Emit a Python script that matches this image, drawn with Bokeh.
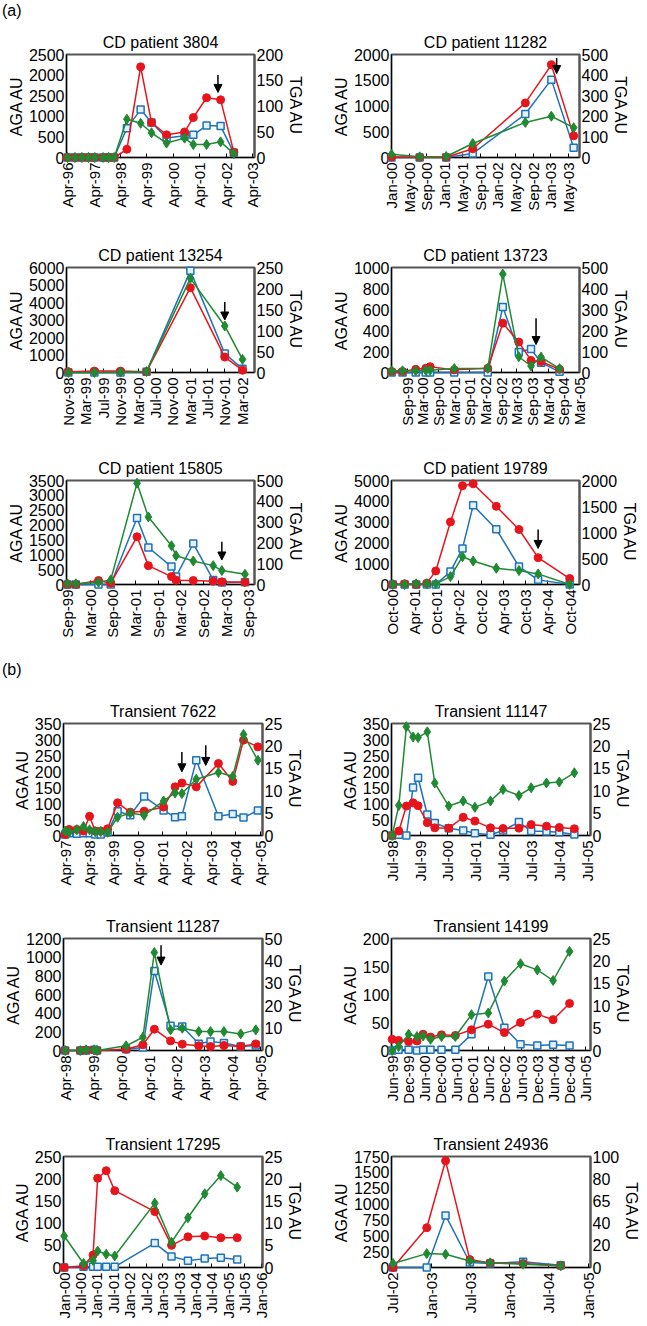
import math
from bokeh.plotting import figure
from bokeh.models import Range1d, LinearAxis, FixedTicker, Arrow, NormalHead, Div
from bokeh.layouts import column, row
from bokeh.embed import file_html
from bokeh.resources import INLINE

RED = "#e8141c"
GREEN = "#1f8a32"
BLUE = "#1f72b8"
FONT = "Liberation Sans"
MONTHS = ["Jan", "Feb", "Mar", "Apr", "May", "Jun", "Jul", "Aug", "Sep", "Oct", "Nov", "Dec"]

# ---------------- data (dates as decimal years; red/green on AGA axis, blue on TGA axis)
t3804 = "CD patient 3804"
x3804 = [1996.25, 1996.53, 1996.79, 1997.04, 1997.28, 1997.59, 1997.80, 1998.01, 1998.49,
         1999.01, 1999.42, 1999.99, 2000.67, 2001.0, 2001.5, 2002.03, 2002.53]
red3804 = [0, 0, 0, 0, 0, 0, 0, 0, 200, 2200, 850, 550, 620, 970, 1450, 1400, 130]
green3804 = [0, 0, 0, 0, 0, 0, 0, 0, 930, 830, 600, 350, 470, 315, 315, 380, 95]
blue3804 = [0, 0, 0, 0, 0, 0, 0, 0, 57, 93, 68, 38, 42, 44, 62, 61, 9]
xt3804 = ["Apr-96", "Apr-97", "Apr-98", "Apr-99", "Apr-00", "Apr-01", "Apr-02", "Apr-03"]
xr3804 = [1996.21, 2003.31]
aga3804 = [0, 500, 1000, 1500, 2000, 2500]
aga3804_labels = {1500: "2500"}
tga3804 = [0, 50, 100, 150, 200]
arr3804 = [(2001.93, 2000, 1580)]

t11282 = "CD patient 11282"
x11282 = [2000.0, 2000.53, 2001.03, 2001.53, 2002.52, 2003.01, 2003.43]
red11282 = [10, 5, 5, 170, 1060, 1800, 420]
green11282 = [63, 13, 19, 271, 681, 801, 580]
blue11282 = [0, 0, 0, 19, 211, 378, 47]
xt11282 = ["Jan-00", "May-00", "Sep-00", "Jan-01", "May-01", "Sep-01", "Jan-02", "May-02",
           "Sep-02", "Jan-03", "May-03"]
xr11282 = [2000.0, 2003.54]
aga11282 = [0, 500, 1000, 1500, 2000]
tga11282 = [0, 100, 200, 300, 400, 500]
arr11282 = [(2003.11, 1930, 1630)]

t13254 = "CD patient 13254"
x13254 = [1998.83, 1999.33, 1999.83, 2000.33, 2001.17, 2001.83, 2002.17]
red13254 = [50, 80, 80, 50, 4850, 880, 130]
green13254 = [0, 0, 20, 56, 5380, 2660, 750]
blue13254 = [0, 0, 0, 2, 242, 45, 9]
xt13254 = ["Nov-98", "Mar-99", "Jul-99", "Nov-99", "Mar-00", "Jul-00", "Nov-00", "Mar-01",
           "Jul-01", "Nov-01", "Mar-02"]
xr13254 = [1998.795, 2002.40]
aga13254 = [0, 1000, 2000, 3000, 4000, 5000, 6000]
tga13254 = [0, 50, 100, 150, 200, 250]
arr13254 = [(2001.83, 4030, 3000)]

t13723 = "CD patient 13723"
x13723 = [1999.17, 1999.52, 1999.94, 2000.26, 2000.40, 2001.17, 2002.24, 2002.72, 2003.23,
          2003.62, 2003.94, 2004.53]
red13723 = [10, 10, 30, 40, 55, 25, 40, 470, 290, 115, 105, 30]
green13723 = [16, 16, 16, 22, 22, 37, 40, 937, 150, 62, 147, 37]
blue13723 = [0, 0, 0, 0, 0, 0, 0, 312, 98, 112, 47, 3]
xt13723 = ["Mar-99", "Sep-99", "Mar-00", "Sep-00", "Mar-01", "Sep-01", "Mar-02", "Sep-02",
           "Mar-03", "Sep-03", "Mar-04", "Sep-04", "Mar-05"]
xr13723 = [1999.167, 2005.167]
aga13723 = [0, 200, 400, 600, 800, 1000]
tga13723 = [0, 100, 200, 300, 400, 500]
arr13723 = [(2003.78, 516, 266)]

t15805 = "CD patient 15805"
x15805 = [1999.667, 1999.85, 2000.35, 2000.62, 2001.2, 2001.45, 2001.96, 2002.06, 2002.44,
          2002.88, 2003.07, 2003.58]
red15805 = [0, 0, 134, 45, 1605, 635, 267, 145, 134, 111, 89, 78]
green15805 = [22, 22, 78, 156, 3410, 2274, 1304, 970, 791, 635, 468, 345]
blue15805 = [0, 0, 0, 0, 320, 178, 86, 38, 197, 22, 10, 11]
xt15805 = ["Sep-99", "Mar-00", "Sep-00", "Mar-01", "Sep-01", "Mar-02", "Sep-02", "Mar-03", "Sep-03"]
xr15805 = [1999.645, 2003.79]
aga15805 = [0, 500, 1000, 1500, 2000, 2500, 3000, 3500]
tga15805 = [0, 100, 200, 300, 400, 500]
arr15805 = [(2003.07, 1440, 825)]

t19789 = "CD patient 19789"
x19789 = [2000.765, 2001.03, 2001.29, 2001.53, 2001.73, 2002.06, 2002.33, 2002.57, 2003.09,
          2003.6, 2004.03, 2004.74]
red19789 = [0, 32, 0, 64, 653, 3009, 4745, 4841, 3758, 2643, 1290, 287]
green19789 = [0, 0, 32, 32, 32, 382, 1337, 1130, 780, 669, 509, 0]
blue19789 = [0, 0, 0, 0, 0, 248, 694, 1522, 1064, 344, 89, 0]
xt19789 = ["Oct-00", "Apr-01", "Oct-01", "Apr-02", "Oct-02", "Apr-03", "Oct-03", "Apr-04", "Oct-04"]
xr19789 = [2000.735, 2004.96]
aga19789 = [0, 1000, 2000, 3000, 4000, 5000]
tga19789 = [0, 500, 1000, 1500, 2000]
arr19789 = [(2004.03, 2643, 1735)]

t7622 = "Transient 7622"
x7622 = [1997.25, 1997.41, 1997.73, 1998.0, 1998.25, 1998.48, 1998.71, 1998.99, 1999.40,
         1999.92, 2000.49, 2001.29, 2001.76, 2002.04, 2002.63, 2003.54, 2004.13, 2004.57, 2005.16]
red7622 = [3, 19, 19, 14, 60, 14, 14, 21, 102, 73, 76, 89, 152, 164, 152, 225, 169, 298, 277]
green7622 = [14, 10, 18, 28, 18, 12, 12, 10, 57, 70, 63, 108, 133, 131, 176, 197, 185, 316, 235]
blue7622 = [0.2, 0.5, 0.4, 0.5, 0.5, 0.2, 0.2, 0.7, 5.4, 4.5, 8.7, 5.6, 4.1, 4.3, 16.8, 4.3,
            4.8, 4.0, 5.6]
xt7622 = ["Apr-97", "Apr-98", "Apr-99", "Apr-00", "Apr-01", "Apr-02", "Apr-03", "Apr-04", "Apr-05"]
xr7622 = [1997.18, 2005.35]
aga7622 = [0, 50, 100, 150, 200, 250, 300, 350]
tga7622 = [0, 5, 10, 15, 20, 25]
arr7622 = [(2002.04, 261, 199), (2003.02, 282, 219)]

t11147 = "Transient 11147"
x11147 = [1998.5, 1998.74, 1999.01, 1999.25, 1999.43, 1999.76, 2000.03, 2000.53, 2001.05,
          2001.47, 2002.03, 2002.48, 2003.05, 2003.49, 2004.04, 2004.5, 2005.04]
red11147 = [0, 14, 92, 102, 93, 40, 24, 23, 57, 45, 24, 22, 23, 34, 29, 25, 21]
green11147 = [0, 94, 340, 308, 306, 324, 164, 92, 108, 88, 108, 144, 125, 149, 164, 167, 196]
blue11147 = [0, 0.15, 0, 10.7, 12.9, 4.7, 2.8, 1.6, 1.1, 0.5, 0.15, 1.1, 3.0, 1.0, 0.9, 0.75, 0.2]
xt11147 = ["Jul-98", "Jul-99", "Jul-00", "Jul-01", "Jul-02", "Jul-03", "Jul-04", "Jul-05"]
xr11147 = [1998.476, 2005.62]
aga11147 = [0, 50, 100, 150, 200, 250, 300, 350]
tga11147 = [0, 5, 10, 15, 20, 25]
arr11147 = []

t11287 = "Transient 11287"
x11287 = [1998.25, 1998.79, 1999.0, 1999.29, 1999.39, 2000.43, 2001.03, 2001.44, 2002.02,
          2002.44, 2003.03, 2003.45, 2003.93, 2004.53, 2005.07]
red11287 = [0, 0, 5, 5, 0, 14, 61, 228, 103, 68, 50, 43, 53, 43, 71]
green11287 = [0, 0, 7, 7, 0, 50, 142, 1050, 221, 239, 203, 203, 203, 178, 221]
blue11287 = [0, 0, 0, 0.3, 0, 0.6, 1.3, 35.5, 11.1, 10.7, 3.0, 4.0, 3.3, 1.8, 2.2]
xt11287 = ["Apr-98", "Apr-99", "Apr-00", "Apr-01", "Apr-02", "Apr-03", "Apr-04", "Apr-05"]
xr11287 = [1998.19, 2005.31]
aga11287 = [0, 200, 400, 600, 800, 1000, 1200]
tga11287 = [0, 10, 20, 30, 40, 50]
arr11287 = [(2001.68, 1129, 915)]

t14199 = "Transient 14199"
x14199 = [1999.42, 1999.62, 1999.93, 2000.19, 2000.38, 2000.61, 2000.95, 2001.38, 2001.88,
          2002.4, 2002.9, 2003.4, 2003.92, 2004.41, 2004.92]
red14199 = [20, 18, 16, 17, 29, 24, 28, 27, 37, 47, 32, 50, 65, 55, 84]
green14199 = [0, 7, 29, 25, 26, 20, 25, 25, 64, 67, 124, 155, 144, 125, 177]
blue14199 = [0, 0.15, 0.15, 0, 0.15, 0.15, 0.15, 0.15, 3.6, 16.5, 5.1, 1.4, 1.1, 1.3, 1.1]
xt14199 = ["Jun-99", "Dec-99", "Jun-00", "Dec-00", "Jun-01", "Dec-01", "Jun-02", "Dec-02",
           "Jun-03", "Dec-03", "Jun-04", "Dec-04", "Jun-05"]
xr14199 = [1999.40, 2005.57]
aga14199 = [0, 50, 100, 150, 200]
tga14199 = [0, 5, 10, 15, 20, 25]
arr14199 = []

t17295 = "Transient 17295"
x17295 = [2000.0, 2000.59, 2000.88, 2001.02, 2001.28, 2001.54, 2002.76, 2003.27, 2003.77,
          2004.28, 2004.77, 2005.27]
red17295 = [0, 4, 28, 201, 218, 173, 126, 50, 69, 71, 67, 67]
green17295 = [71, 9, 16, 37, 30, 26, 145, 57, 112, 166, 207, 181]
blue17295 = [0, 0.15, 0.15, 0.15, 0.15, 0.15, 5.5, 2.5, 1.5, 2.0, 2.2, 1.8]
xt17295 = ["Jan-00", "Jul-00", "Jan-01", "Jul-01", "Jan-02", "Jul-02", "Jan-03", "Jul-03",
           "Jan-04", "Jul-04", "Jan-05", "Jul-05", "Jan-06"]
xr17295 = [1999.98, 2006.04]
aga17295 = [0, 50, 100, 150, 200, 250]
tga17295 = [0, 5, 10, 15, 20, 25]
arr17295 = []

t24936 = "Transient 24936"
x24936 = [2002.51, 2002.94, 2003.18, 2003.49, 2003.75, 2004.17, 2004.65]
red24936 = [0, 627, 1682, 125, 73, 63, 26]
green24936 = [63, 219, 209, 104, 73, 52, 26]
blue24936 = [0, 0, 46.9, 4.5, 3.6, 5.1, 2.1]
xt24936 = ["Jul-02", "Jan-03", "Jul-03", "Jan-04", "Jul-04", "Jan-05"]
xr24936 = [2002.49, 2005.03]
aga24936 = [0, 250, 500, 750, 1000, 1250, 1500, 1750]
tga24936 = [0, 20, 40, 60, 80, 100]
tga24936_labels = {60: "65"}
arr24936 = []


def tick_pos(label):
    mon, yy = label.split("-")
    y = int(yy)
    year = 1900 + y if y > 50 else 2000 + y
    return (year - 1990) * 12 + MONTHS.index(mon)


def mpos(year):
    return (year - 1990) * 12


def style_axis(ax, label_size="16px"):
    ax.major_label_text_font = FONT
    ax.major_label_text_font_size = label_size
    ax.major_label_text_color = "black"
    ax.axis_label_text_font = FONT
    ax.axis_label_text_font_size = "16px"
    ax.axis_label_text_font_style = "normal"
    ax.axis_label_text_color = "black"
    ax.major_label_standoff = 2
    ax.axis_label_standoff = 1
    ax.minor_tick_line_color = None
    ax.major_tick_out = 0
    ax.major_tick_in = 0
    ax.axis_line_color = "black"
    ax.axis_line_width = 1


def make_panel(title, x, red, green, blue, xticks, xr, aga, tga, arrows, box,
               aga_labels=None, tga_labels=None):
    width, height, left, top, fw, fh = box
    right = width - left - fw
    bottom = height - top - fh
    p = figure(width=width, height=height, output_backend="svg", toolbar_location=None,
               x_range=Range1d(mpos(xr[0]), mpos(xr[1])), y_range=Range1d(0, aga[-1]),
               min_border_left=left, min_border_right=right,
               min_border_top=top, min_border_bottom=bottom, title=title)
    p.title.text_font = FONT
    p.title.text_font_size = "16px"
    p.title.text_font_style = "normal"
    p.title.text_color = "black"
    p.title.align = "center"
    p.title.standoff = 7
    p.outline_line_color = "#555555"
    p.outline_line_width = 2
    p.xgrid.visible = False
    p.ygrid.visible = False
    p.background_fill_color = "white"
    p.border_fill_color = "white"

    p.extra_y_ranges = {"tga": Range1d(0, tga[-1])}
    ax_r = LinearAxis(y_range_name="tga", axis_label="TGA AU")
    p.add_layout(ax_r, "right")

    xa = p.xaxis[0]
    style_axis(xa, "15px")
    xa.ticker = FixedTicker(ticks=[tick_pos(l) for l in xticks])
    xa.major_label_overrides = {tick_pos(l): l for l in xticks}
    xa.major_label_orientation = math.pi / 2
    xa.major_label_standoff = 5
    xa.major_tick_in = 4

    ya = p.yaxis[0]
    style_axis(ya)
    ya.axis_label = "AGA AU"
    ya.ticker = FixedTicker(ticks=aga)
    if aga_labels:
        ya.major_label_overrides = aga_labels

    style_axis(ax_r)
    ax_r.ticker = FixedTicker(ticks=tga)
    ax_r.axis_line_color = "#555555"
    ax_r.axis_line_width = 2
    if tga_labels:
        ax_r.major_label_overrides = tga_labels

    xm = [mpos(v) for v in x]
    p.line(xm, blue, y_range_name="tga", line_color=BLUE, line_width=1.5, level="annotation")
    p.scatter(xm, blue, y_range_name="tga", marker="square", size=7, fill_color="#e3f1fb",
              line_color=BLUE, line_width=1.5, level="annotation")
    p.line(xm, red, line_color=RED, line_width=1.5, level="annotation")
    p.scatter(xm, red, marker="circle", size=8, fill_color=RED, line_color=RED,
              level="annotation")
    p.line(xm, green, line_color=GREEN, line_width=1.5, level="annotation")
    p.scatter(xm, green, marker="diamond", size=10, fill_color=GREEN, line_color=GREEN,
              level="annotation")

    for (ax_, y0, y1) in arrows:
        p.add_layout(Arrow(end=NormalHead(size=8, fill_color="black", line_color="black"),
                           x_start=mpos(ax_), y_start=y0, x_end=mpos(ax_), y_end=y1,
                           line_color="black", line_width=1.5))
    return p


# layout boxes: (width, height, left border, top border, frame width, frame height)
L1 = (323, 191, 66, 30, 188, 106); R1 = (324, 191, 68, 30, 188, 106)
L2 = (323, 213, 66, 52, 188, 106); R2 = (324, 213, 68, 52, 188, 106)
L3 = (323, 212, 66, 52, 188, 105); R3 = (324, 212, 68, 52, 188, 105)
L4 = (323, 200, 63, 33, 199, 112); R4 = (324, 200, 68, 33, 199, 112)
L5 = (323, 216, 63, 48, 199, 113); R5 = (324, 216, 68, 48, 199, 113)
L6 = (323, 218, 63, 50, 199, 111); R6 = (324, 218, 68, 50, 199, 111)

f1 = make_panel(t3804, x3804, red3804, green3804, blue3804, xt3804, xr3804, aga3804, tga3804,
                arr3804, L1, aga_labels=aga3804_labels)
f2 = make_panel(t11282, x11282, red11282, green11282, blue11282, xt11282, xr11282, aga11282,
                tga11282, arr11282, R1)
f3 = make_panel(t13254, x13254, red13254, green13254, blue13254, xt13254, xr13254, aga13254,
                tga13254, arr13254, L2)
f4 = make_panel(t13723, x13723, red13723, green13723, blue13723, xt13723, xr13723, aga13723,
                tga13723, arr13723, R2)
f5 = make_panel(t15805, x15805, red15805, green15805, blue15805, xt15805, xr15805, aga15805,
                tga15805, arr15805, L3)
f6 = make_panel(t19789, x19789, red19789, green19789, blue19789, xt19789, xr19789, aga19789,
                tga19789, arr19789, R3)
f7 = make_panel(t7622, x7622, red7622, green7622, blue7622, xt7622, xr7622, aga7622, tga7622,
                arr7622, L4)
f8 = make_panel(t11147, x11147, red11147, green11147, blue11147, xt11147, xr11147, aga11147,
                tga11147, arr11147, R4)
f9 = make_panel(t11287, x11287, red11287, green11287, blue11287, xt11287, xr11287, aga11287,
                tga11287, arr11287, L5)
f10 = make_panel(t14199, x14199, red14199, green14199, blue14199, xt14199, xr14199, aga14199,
                 tga14199, arr14199, R5)
f11 = make_panel(t17295, x17295, red17295, green17295, blue17295, xt17295, xr17295, aga17295,
                 tga17295, arr17295, L6)
f12 = make_panel(t24936, x24936, red24936, green24936, blue24936, xt24936, xr24936, aga24936,
                 tga24936, arr24936, R6, tga_labels=tga24936_labels)

lab_a = Div(text='<div style="font-family:Liberation Sans;font-size:16px;line-height:20px;padding-top:1px;padding-left:2px;">(a)</div>',
            width=647, height=24, margin=(0, 0, 0, 0))
lab_b = Div(text='<div style="font-family:Liberation Sans;font-size:16px;line-height:20px;padding-top:20px;padding-left:2px;">(b)</div>',
            width=647, height=50, margin=(0, 0, 0, 0))

layout = column(lab_a, row(f1, f2), row(f3, f4), row(f5, f6), lab_b,
                row(f7, f8), row(f9, f10), row(f11, f12))

open("out.html", "w").write(file_html(layout, INLINE))
